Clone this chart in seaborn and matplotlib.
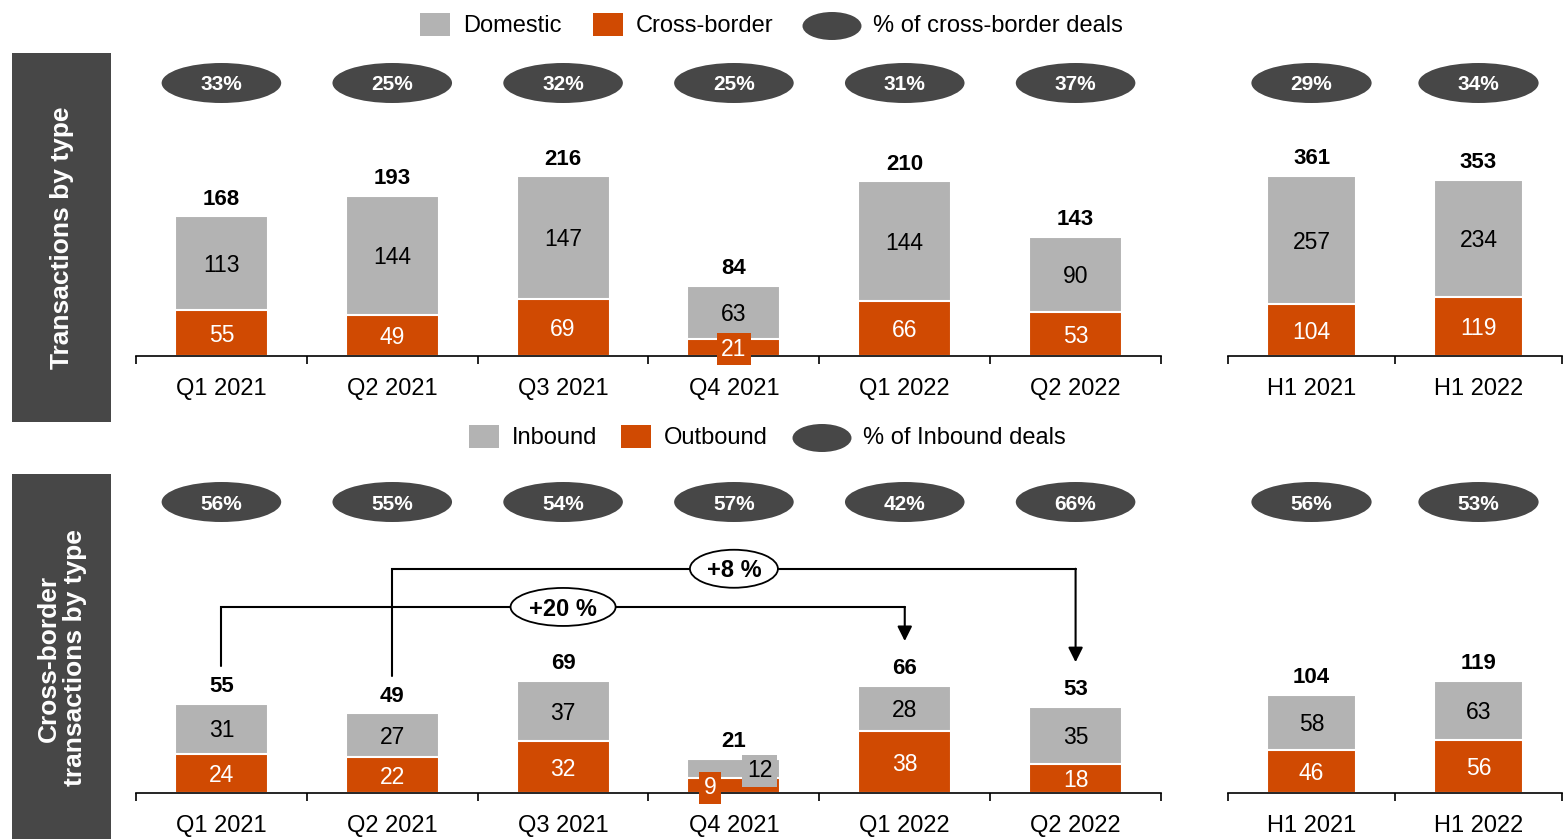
import matplotlib
matplotlib.use("Agg")
import matplotlib.pyplot as plt
from matplotlib.patches import Ellipse, Rectangle
from matplotlib.transforms import blended_transform_factory
import numpy as np
import pandas as pd
import seaborn as sns

# ---------------------------------------------------------------- data
quarters = ["Q1 2021", "Q2 2021", "Q3 2021", "Q4 2021", "Q1 2022", "Q2 2022"]
halves = ["H1 2021", "H1 2022"]

# Transactions by type
domestic_q = [113, 144, 147, 63, 144, 90]
crossborder_q = [55, 49, 69, 21, 66, 53]
domestic_h = [257, 234]
crossborder_h = [104, 119]
crossborder_share_q = [33, 25, 32, 25, 31, 37]
crossborder_share_h = [29, 34]

# Cross-border transactions by type
inbound_q = [31, 27, 37, 12, 28, 35]
outbound_q = [24, 22, 32, 9, 38, 18]
inbound_h = [58, 63]
outbound_h = [46, 56]
inbound_share_q = [56, 55, 54, 57, 42, 66]
inbound_share_h = [56, 53]

# Year-on-year growth callouts: (from quarter, to quarter, label)
growth_callouts = [(0, 4, "+20 %"), (1, 5, "+8 %")]

# ---------------------------------------------------------------- style
GREY = "#b3b3b3"
ORANGE = "#d04a02"
DARK = "#474747"
TXT_DY = -1.5  # small downward nudge (points) for centred labels

sns.set_theme(style="white")
plt.rcParams["font.family"] = ["Liberation Sans", "DejaVu Sans"]

W, H = 1567, 839
fig = plt.figure(figsize=(W / 100, H / 100), dpi=100)


def fx(x):
    return x / W


def fy(y):
    return 1 - y / H


def axes_px(x0, x1, ytop, ybase):
    return fig.add_axes([fx(x0), fy(ybase), (x1 - x0) / W, (ybase - ytop) / H])


def stacked(ax, cats, lower, upper, shares, ymax, bar_w, ell_w, ell_y,
            lower_boxed=None, upper_boxed=None):
    lower_boxed = lower_boxed or {}
    upper_boxed = upper_boxed or {}
    totals = [a + b for a, b in zip(lower, upper)]
    df = pd.DataFrame({"cat": cats, "total": totals, "lower": lower})
    sns.barplot(data=df, x="cat", y="total", color=GREY, saturation=1,
                width=bar_w, edgecolor="white", linewidth=1.5,
                errorbar=None, ax=ax)
    sns.barplot(data=df, x="cat", y="lower", color=ORANGE, saturation=1,
                width=bar_w, edgecolor="white", linewidth=1.5,
                errorbar=None, ax=ax)
    n = len(cats)
    tr = blended_transform_factory(ax.transData, fig.transFigure)
    for i in range(n):
        lo, up, tot = lower[i], upper[i], totals[i]
        dx = lower_boxed.get(i)
        kw = {}
        if dx is not None:
            kw["bbox"] = dict(boxstyle="square,pad=0.2", fc=ORANGE, ec="none")
        ax.annotate(str(lo), (i + (dx or 0), lo / 2), xytext=(0, TXT_DY),
                    textcoords="offset points", color="white", ha="center",
                    va="center", fontsize=16.5, zorder=5, **kw)
        dx = upper_boxed.get(i)
        kw = {}
        if dx is not None:
            kw["bbox"] = dict(boxstyle="square,pad=0.2", fc=GREY, ec="none")
        ax.annotate(str(up), (i + (dx or 0), lo + up / 2), xytext=(0, TXT_DY),
                    textcoords="offset points", color="black", ha="center",
                    va="center", fontsize=16.5, zorder=5, **kw)
        ax.annotate(str(tot), (i, tot), xytext=(0, 12.5),
                    textcoords="offset points", ha="center", va="center",
                    fontsize=16, fontweight="bold", color="black")
        # share badge above each bar
        fig.add_artist(Ellipse((i, fy(ell_y)), width=ell_w, height=40 / H,
                               transform=tr, fc=DARK, ec="none"))
        fig.text(i, fy(ell_y + 2), f"{shares[i]}%", transform=tr,
                 color="white", ha="center", va="center", fontsize=15,
                 fontweight="bold")

    ax.set_xlim(-0.5, n - 0.5)
    ax.set_ylim(0, ymax)
    ax.set_xlabel("")
    ax.set_ylabel("")
    ax.set_yticks([])
    ax.set_xticks(np.arange(-0.5, n, 1.0))
    ax.set_xticklabels([""] * (n + 1))
    ax.set_xticks(np.arange(n), minor=True)
    ax.set_xticklabels(cats, minor=True)
    ax.tick_params(axis="x", which="major", length=6, width=1.2,
                   direction="out", color="black", bottom=True)
    ax.tick_params(axis="x", which="minor", length=0, pad=15.5,
                   labelsize=17, labelcolor="black", bottom=True)
    for s in ("left", "right", "top"):
        ax.spines[s].set_visible(False)
    ax.spines["bottom"].set_color("black")
    ax.spines["bottom"].set_linewidth(1.2)
    ax.set_facecolor("none")


# ---------------------------------------------------------------- panels
ax_tq = axes_px(136, 1161, 110, 356)
ax_th = axes_px(1228, 1562, 110, 356)
ax_bq = axes_px(136, 1161, 540, 793)
ax_bh = axes_px(1228, 1562, 540, 793)

stacked(ax_tq, quarters, crossborder_q, domestic_q, crossborder_share_q,
        296, 0.545, 0.70, 83, lower_boxed={3: 0.0})
stacked(ax_th, halves, crossborder_h, domestic_h, crossborder_share_h,
        493, 0.535, 0.72, 83)
stacked(ax_bq, quarters, outbound_q, inbound_q, inbound_share_q,
        155.7, 0.545, 0.70, 502, lower_boxed={3: -0.14},
        upper_boxed={3: 0.15})
stacked(ax_bh, halves, outbound_h, inbound_h, inbound_share_h,
        268.7, 0.535, 0.72, 502)

# growth connectors between quarters
cb_totals = [a + b for a, b in zip(outbound_q, inbound_q)]
levels = [114.5, 138.0]
badge_w = [0.615, 0.515]
for (src, dst, label), lvl, bw in zip(growth_callouts, levels, badge_w):
    start = cb_totals[src] + 23
    tip = cb_totals[dst] + 27.5
    ax_bq.plot([src, src, dst], [start, lvl, lvl], color="black", lw=1.5,
               solid_joinstyle="miter", clip_on=False, zorder=4)
    ax_bq.annotate("", xy=(dst, tip), xytext=(dst, lvl),
                   arrowprops=dict(arrowstyle="-|>", color="black", lw=1.5,
                                   mutation_scale=22, shrinkA=0, shrinkB=0),
                   zorder=4)
    mid = (src + dst) / 2
    ax_bq.add_patch(Ellipse((mid, lvl), width=bw, height=38 / 1.625,
                            fc="white", ec="black", lw=1.3, zorder=5,
                            clip_on=False))
    ax_bq.annotate(label, (mid, lvl), xytext=(0, TXT_DY),
                   textcoords="offset points", ha="center", va="center",
                   fontsize=17, fontweight="bold", color="black", zorder=6)
ax_bq.set_xlim(-0.5, 5.5)
ax_bq.set_ylim(0, 155.7)

# ---------------------------------------------------------------- side labels
fig.add_artist(Rectangle((fx(12), fy(422)), 99 / W, 369 / H,
                         transform=fig.transFigure, fc=DARK, ec="none"))
fig.add_artist(Rectangle((fx(12), fy(839)), 99 / W, 365 / H,
                         transform=fig.transFigure, fc=DARK, ec="none"))
fig.text(fx(62), fy(238), "Transactions by type", rotation=90, color="white",
         fontsize=19, fontweight="bold", ha="center", va="center")
fig.text(fx(62), fy(658), "Cross-border\ntransactions by type", rotation=90,
         color="white", fontsize=19, fontweight="bold", ha="center",
         va="center", multialignment="center", linespacing=1.1)


# ---------------------------------------------------------------- legends
def legend_row(y, items):
    for kind, x, label, tx in items:
        if kind == "ellipse":
            fig.add_artist(Ellipse((fx(x), fy(y + 2)), 59 / W, 28 / H,
                                   transform=fig.transFigure, fc=DARK,
                                   ec="none"))
        else:
            fig.add_artist(Rectangle((fx(x), fy(y + 11.5)), 30 / W, 23 / H,
                                     transform=fig.transFigure, fc=kind,
                                     ec="none"))
        fig.text(fx(tx), fy(y + 2), label, fontsize=17, color="black",
                 ha="left", va="center")


legend_row(24, [(GREY, 420, "Domestic", 463),
                (ORANGE, 593, "Cross-border", 636),
                ("ellipse", 832, "% of cross-border deals", 873)])
legend_row(436, [(GREY, 469, "Inbound", 512),
                 (ORANGE, 621, "Outbound", 664),
                 ("ellipse", 822, "% of Inbound deals", 863)])

fig.savefig("out.png", dpi=100, facecolor="white")
